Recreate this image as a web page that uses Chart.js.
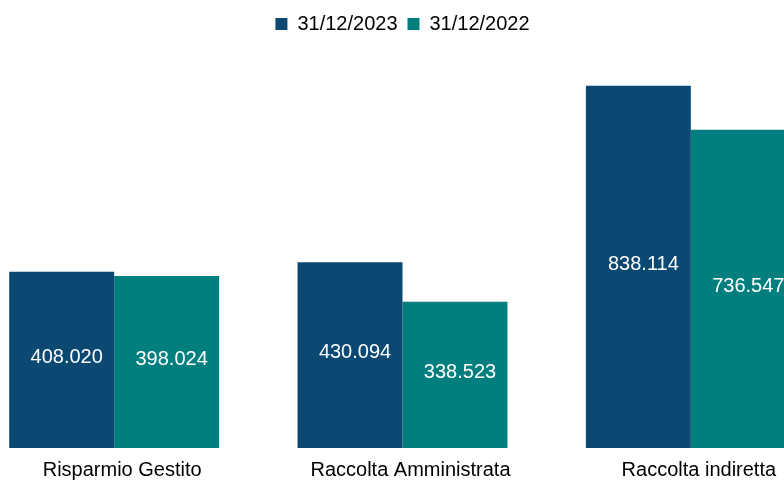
<!DOCTYPE html>
<html>
<head>
<meta charset="utf-8">
<script src="https://cdn.jsdelivr.net/npm/chart.js@4/dist/chart.umd.min.js"></script>
<style>
  html, body { margin: 0; padding: 0; background: #fff; overflow: hidden; }
  body { width: 784px; height: 480px; position: relative; }
  #wrap { position: absolute; left: -30px; top: 0; width: 865px; height: 492px; }
</style>
</head>
<body>
<div id="wrap"><canvas id="chart"></canvas></div>
<script>
// categories and series
const categories = ['Risparmio Gestito', 'Raccolta Amministrata', 'Raccolta indiretta'];
const seriesLabels = ['31/12/2023', '31/12/2022'];
const values2023 = [408020, 430094, 838114];
const values2022 = [398024, 338523, 736547];
const colors = ['#0B4872', '#007F7E'];

const FONT = '"Liberation Sans", Arial, sans-serif';

function formatIt(v) {
    return String(v).replace(/\B(?=(\d{3})+(?!\d))/g, '.');
}

// white value labels drawn inside each bar
const valueLabels = {
    id: 'valueLabels',
    afterDatasetsDraw(chart) {
        const ctx = chart.ctx;
        ctx.save();
        ctx.font = '20px ' + FONT;
        ctx.fillStyle = '#ffffff';
        ctx.textAlign = 'center';
        ctx.textBaseline = 'middle';
        chart.data.datasets.forEach((ds, i) => {
            chart.getDatasetMeta(i).data.forEach((bar, j) => {
                const y = (bar.y + bar.base) / 2 - 2.5;
                ctx.fillText(formatIt(ds.data[j]), bar.x + 5, y);
            });
        });
        ctx.restore();
    }
};

new Chart(document.getElementById('chart').getContext('2d'), {
    type: 'bar',
    data: {
        labels: categories,
        datasets: [
            { label: seriesLabels[0], data: values2023, backgroundColor: colors[0] },
            { label: seriesLabels[1], data: values2022, backgroundColor: colors[1] }
        ]
    },
    options: {
        responsive: true,
        maintainAspectRatio: false,
        animation: false,
        layout: { padding: { top: 4, bottom: 0, left: 0, right: 0 } },
        datasets: {
            bar: { categoryPercentage: 0.728, barPercentage: 1 }
        },
        plugins: {
            legend: {
                position: 'top',
                labels: {
                    boxWidth: 12,
                    boxHeight: 12,
                    color: '#000',
                    font: { family: FONT, size: 20 }
                }
            },
            tooltip: { enabled: false }
        },
        scales: {
            x: {
                grid: { display: false, drawTicks: false },
                border: { display: false },
                ticks: {
                    color: '#000',
                    padding: 10,
                    labelOffset: 8,
                    font: { family: FONT, size: 20 }
                }
            },
            y: {
                display: false,
                min: 0,
                max: 935000
            }
        }
    },
    plugins: [valueLabels]
});
</script>
</body>
</html>
